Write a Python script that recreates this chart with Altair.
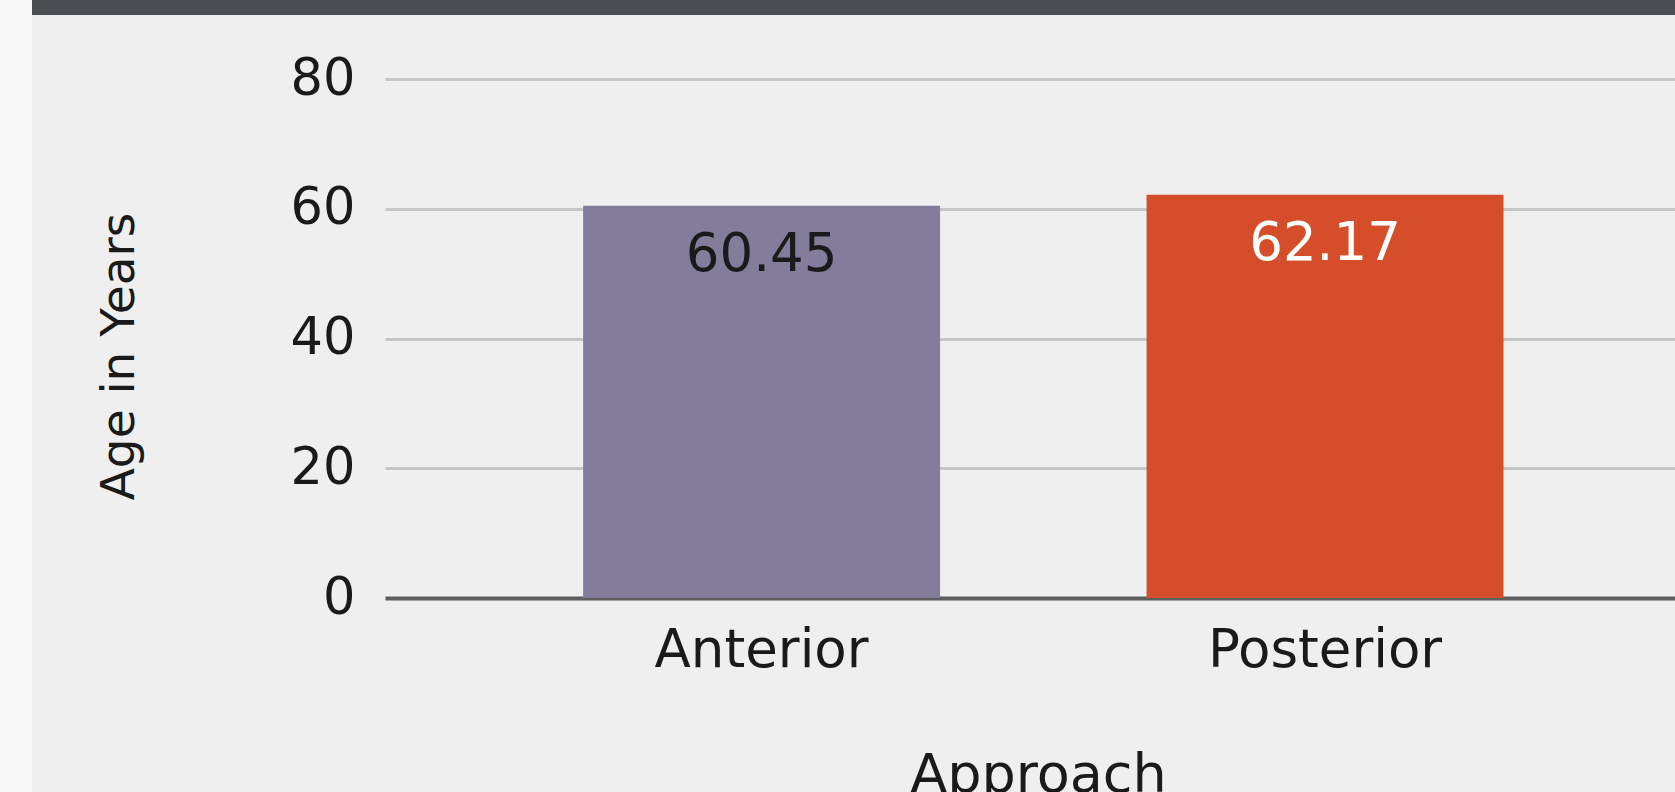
import altair as alt
import pandas as pd

# ---- data ----
approaches = ["Anterior", "Posterior"]
mean_age = [60.45, 62.17]
y_ticks = [0, 20, 40, 60, 80]

df = pd.DataFrame({"Approach": approaches, "Age": mean_age})

FONT = "DejaVu Sans"
TXT = "#1a1a1a"
bar_colors = ["#837c9a", "#d64e29"]
label_colors = ["#1a1a1a", "#ffffff"]

W, H = 1290, 519
PAD_L, PAD_T, PAD_B = 385, 79, 194

x_enc = alt.X(
    "Approach:N", sort=approaches, title="Approach",
    scale=alt.Scale(paddingInner=0.3665, paddingOuter=0.328, align=0.536),
    axis=alt.Axis(
        labelAngle=0, labelFont=FONT, labelFontSize=53, labelColor=TXT, labelLimit=0,
        labelPadding=26, ticks=False, tickSize=0,
        domainColor="#5e5e5e", domainWidth=4,
        titleFont=FONT, titleFontSize=54, titleFontWeight="normal", titleColor=TXT,
        titleX=653, titleY=150, titleBaseline="top", titleAlign="center", titleLimit=0,
    ),
)

y_enc = alt.Y(
    "Age:Q", title="Age in Years",
    scale=alt.Scale(domain=[0, 80], nice=False),
    axis=alt.Axis(
        values=y_ticks, labelFont=FONT, labelFontSize=51, labelColor=TXT,
        labelPadding=30, ticks=False, tickSize=0, domain=False,
        grid=True, gridColor="#c6c6c6", gridWidth=3,
        titleFont=FONT, titleFontSize=47, titleFontWeight="normal", titleColor=TXT,
        titleAngle=270, titleX=-252, titleY=277, titleBaseline="alphabetic", titleAlign="center",
    ),
)

# decorative frame: light strip at left and dark band at top
frame = alt.Data(values=[{"k": 1}])
strip = alt.Chart(frame).mark_rect(color="#f8f8f8").encode(
    x=alt.value(-PAD_L), x2=alt.value(-PAD_L + 32),
    y=alt.value(-PAD_T), y2=alt.value(H + PAD_B),
)
topband = alt.Chart(frame).mark_rect(color="#4a4d52").encode(
    x=alt.value(-PAD_L + 32), x2=alt.value(W),
    y=alt.value(-PAD_T), y2=alt.value(-PAD_T + 15),
)

base = alt.Chart(df)
bars = base.mark_bar().encode(
    x=x_enc, y=y_enc,
    color=alt.Color("Approach:N", scale=alt.Scale(domain=approaches, range=bar_colors), legend=None),
)
labels = base.mark_text(baseline="top", dy=23, font=FONT, fontSize=53).encode(
    x=alt.X("Approach:N", sort=approaches),
    y=alt.Y("Age:Q"),
    text=alt.Text("Age:Q", format=".2f"),
    color=alt.Color("Approach:N", scale=alt.Scale(domain=approaches, range=label_colors), legend=None),
)

chart = (
    alt.layer(strip, topband, bars, labels)
    .resolve_scale(color="independent")
    .properties(
        width=W, height=H, background="#efefef",
        padding={"left": PAD_L, "top": PAD_T, "right": 0, "bottom": PAD_B},
        autosize=alt.AutoSizeParams(type="none"),
    )
    .configure_view(stroke=None)
)

chart.save("out.html", embed_options={"renderer": "svg", "actions": False})
